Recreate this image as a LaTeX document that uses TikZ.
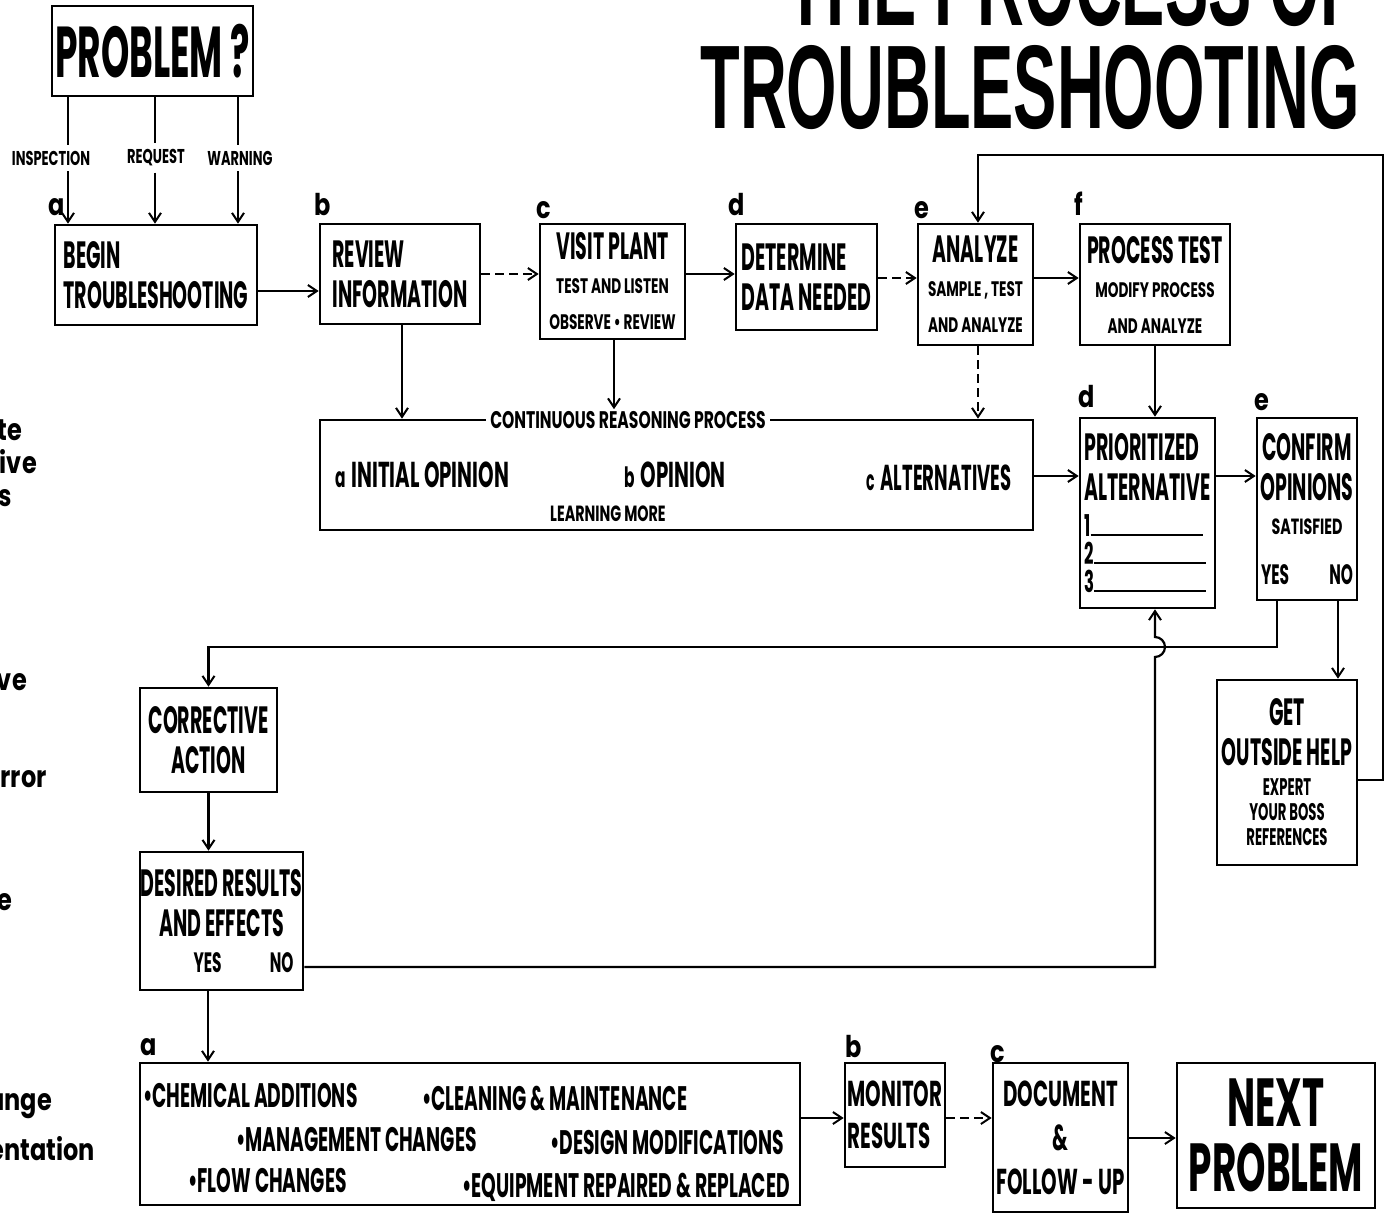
\documentclass[tikz,border=0pt]{standalone}
\usepackage{fontspec}
\usetikzlibrary{arrows.meta,calc}
\newfontfamily\cfa[FakeStretch=0.5]{Poppins}
\newfontfamily\cfb[FakeStretch=0.55]{Poppins}
\newfontfamily\cfc[FakeStretch=0.65]{Poppins}
\newfontfamily\lf[FakeStretch=0.8]{Poppins}
\newfontfamily\tf[FakeStretch=0.545]{Liberation Sans}
\newcommand\fz[2]{\fontsize{#1}{#2}\selectfont}
\begin{document}
\begin{tikzpicture}[x=1pt,y=-1pt,
  box/.style={draw,line width=2.6pt,inner sep=0pt,align=center,font=\cfa\bfseries\fz{38}{40}},
  conn/.style={line width=2.2pt},
  arr/.style={conn,-{Straight Barb[length=9pt,width=12pt,line width=2pt]}},
  brk/.style={dash pattern=on 9pt off 5pt},
  txt/.style={inner sep=0pt,anchor=base west,font=\cfb\bfseries\fz{36}{38}},
  lbl/.style={inner xsep=0pt,inner ysep=6pt,font=\cfc\bfseries\fz{20}{22}},
  tag/.style={inner sep=0pt,anchor=base west,font=\lf\bfseries\fz{30}{30}},
  frag/.style={inner sep=0pt,anchor=base east,font=\lf\bfseries\fz{30}{30}},
  item/.style={inner sep=0pt,anchor=base west,font=\cfb\bfseries\fz{34}{34}},
  ttl/.style={inner sep=0pt,anchor=base east,text depth=0pt,font=\tf\bfseries\fz{119}{119}}
]
\useasboundingbox (0,0) rectangle (1389,1226);
\fill[white] (0,0) rectangle (1389,1226);

% title and cut-off words at the left edge
\begin{scope}
\clip (0,0) rectangle (1389,1226);
\node[ttl] (title1) at (1360,25) {THE PROCESS OF};
\node[frag] (f1) at (22,440) {te};
\node[frag] (f2) at (37,473) {ive};
\node[frag] (f3) at (12,506) {s};
\node[frag] (f4) at (27,690) {ve};
\node[frag] (f5) at (47,787) {rror};
\node[frag] (f6) at (12,910) {e};
\node[frag] (f7) at (52,1110) {ange};
\node[frag] (f8) at (95,1160) {entation};
\end{scope}
\node[ttl] (title2) at (1360,128) {TROUBLESHOOTING};

% boxes
\node[box,minimum width=201pt,minimum height=90pt,font=\cfa\bfseries\fz{72}{72}] (prob) at (152.5,51) {PROBLEM ?};
\node[box,minimum width=202pt,minimum height=100pt,align=left] (begin) at (156,275) {BEGIN\\TROUBLESHOOTING};
\node[box,minimum width=160pt,minimum height=100pt,align=left] (review) at (400,274) {REVIEW\\INFORMATION};
\node[box,minimum width=145pt,minimum height=115pt] (visit) at (612.5,281.5) {VISIT PLANT\\[-6pt]{\cfc\fz{21}{26}TEST AND LISTEN}\\[-4pt]{\cfc\fz{21}{26}OBSERVE \textbullet{} REVIEW}};
\node[box,minimum width=141pt,minimum height=106pt,align=left] (determ) at (806.5,277) {DETERMINE\\DATA NEEDED};
\node[box,minimum width=115pt,minimum height=121pt] (analyze) at (975.5,284.5) {ANALYZE\\[-6pt]{\cfc\fz{21}{26}SAMPLE , TEST}\\[-4pt]{\cfc\fz{21}{26}AND ANALYZE}};
\node[box,minimum width=150pt,minimum height=121pt] (ptest) at (1155,284.5) {PROCESS TEST\\[-6pt]{\cfc\fz{21}{26}MODIFY PROCESS}\\[-4pt]{\cfc\fz{21}{26}AND ANALYZE}};
\node[box,minimum width=713pt,minimum height=110pt] (reason) at (676.5,475) {};
\node[box,minimum width=135pt,minimum height=190pt,align=left] (prior) at (1147.5,513) {PRIORITIZED\\ALTERNATIVE\\[-4pt]{\cfb\fz{30}{26}1}\rule{112pt}{2.2pt}\\[-12pt]{\cfb\fz{30}{26}2}\rule{112pt}{2.2pt}\\[-12pt]{\cfb\fz{30}{26}3}\rule{112pt}{2.2pt}};
\node[box,minimum width=100pt,minimum height=182pt] (confirm) at (1307,509) {CONFIRM\\OPINIONS\\[-6pt]{\cfc\fz{22}{24}SATISFIED}\\[10pt]{\cfb\fz{28}{28}\makebox[92pt]{YES\hfill NO}}};
\node[box,minimum width=140pt,minimum height=185pt] (help) at (1287,772.5) {GET\\OUTSIDE HELP\\[-10pt]{\cfb\fz{24}{24}EXPERT}\\[-15pt]{\cfb\fz{24}{24}YOUR BOSS}\\[-15pt]{\cfb\fz{24}{24}REFERENCES}};
\node[box,minimum width=137pt,minimum height=104pt] (correct) at (208.5,740) {CORRECTIVE\\ACTION};
\node[box,minimum width=163pt,minimum height=138pt] (desired) at (221.5,921) {DESIRED RESULTS\\AND EFFECTS\\[-4pt]{\cfb\fz{28}{28}\makebox[160pt]{\hspace{52pt}YES\hfill NO\hspace{8pt}}}};
\node[box,minimum width=660pt,minimum height=142pt] (actions) at (470,1134) {};
\node[box,minimum width=100pt,minimum height=104pt,align=left,font=\cfb\bfseries\fz{36}{42}] (monitor) at (895,1115) {MONITOR\\RESULTS};
\node[box,minimum width=135pt,minimum height=149pt,font=\cfb\bfseries\fz{36}{44}] (doc) at (1060.5,1137.5) {DOCUMENT\\\&\\FOLLOW - UP};
\node[box,minimum width=198pt,minimum height=145pt,font=\cfb\bfseries\fz{68}{65}] (next) at (1276,1135.5) {NEXT\\PROBLEM};

% texts inside the reasoning box and the action box
\node[fill=white,inner xsep=4pt,inner ysep=2pt,font=\cfc\bfseries\fz{24}{24}] (cont) at (628,420) {CONTINUOUS REASONING PROCESS};
\node[txt] (ia) at (335,487) {{\fz{28}{28}a}\,INITIAL OPINION};
\node[txt] (ib) at (624,487) {{\fz{28}{28}b}\,OPINION};
\node[txt,font=\cfc\bfseries\fz{22}{22}] (lm) at (550,521) {LEARNING MORE};
\node[txt,font=\cfa\bfseries\fz{36}{38}] (ic) at (866,490) {{\fz{28}{28}c}\,ALTERNATIVES};
\node[item] (i1) at (143,1107) {\textbullet CHEMICAL ADDITIONS};
\node[item] (i2) at (422,1110) {\textbullet CLEANING \& MAINTENANCE};
\node[item] (i3) at (236,1151) {\textbullet MANAGEMENT CHANGES};
\node[item] (i4) at (550,1154) {\textbullet DESIGN MODIFICATIONS};
\node[item] (i5) at (188,1192) {\textbullet FLOW CHANGES};
\node[item] (i6) at (462,1197) {\textbullet EQUIPMENT REPAIRED \& REPLACED};

% step letters
\node[tag] (ta) at (48,215) {a};
\node[tag] (tb) at (314,215) {b};
\node[tag] (tc) at (536,218) {c};
\node[tag] (td) at (728,215) {d};
\node[tag] (te) at (914,218) {e};
\node[tag] (tf) at (1074,215) {f};
\node[tag] (td2) at (1078,407) {d};
\node[tag] (te2) at (1254,410) {e};
\node[tag] (ta2) at (140,1055) {a};
\node[tag] (tb2) at (845,1057) {b};
\node[tag] (tc2) at (990,1062) {c};

% source labels
\coordinate (xa) at (68,0); \coordinate (xb) at (155,0); \coordinate (xc) at (238,0);
\node[lbl] (insp) at (51,158) {INSPECTION};
\node[lbl] (req) at (156,158) {REQUEST};
\node[lbl] (warn) at (240,158) {WARNING};
\draw[conn] (prob.south -| xa) -- (insp.north -| xa);
\draw[conn] (prob.south -| xb) -- (req.north -| xb);
\draw[conn] (prob.south -| xc) -- (warn.north -| xc);
\draw[arr] (insp.south -| xa) -- (begin.north -| xa);
\draw[arr] (req.south -| xb) -- (begin.north -| xb);
\draw[arr] (warn.south -| xc) -- (begin.north -| xc);

% helper coordinates
\coordinate (r1) at (0,291);
\coordinate (r2) at (0,274);
\coordinate (r3) at (0,278);
\coordinate (r4) at (0,476);
\coordinate (r5) at (0,647);
\coordinate (r6) at (0,780);
\coordinate (r7) at (0,155);
\coordinate (r8) at (0,967);
\coordinate (r9) at (0,1118);
\coordinate (r10) at (0,1138);
\coordinate (xr) at (402,0);
\coordinate (xv) at (614,0);
\coordinate (xan) at (978,0);
\coordinate (xp) at (1155,0);
\coordinate (xy) at (1277,0);
\coordinate (xn) at (1338,0);
\coordinate (xf) at (1383,0);
\coordinate (xd) at (208,0);

% connectors
\draw[arr] (begin.east |- r1) -- (review.west |- r1);
\draw[arr,brk] (review.east |- r2) -- (visit.west |- r2);
\draw[arr] (visit.east |- r2) -- (determ.west |- r2);
\draw[arr,brk] (determ.east |- r3) -- (analyze.west |- r3);
\draw[arr] (analyze.east |- r3) -- (ptest.west |- r3);
\draw[arr] (review.south -| xr) -- (reason.north -| xr);
\draw[arr] (visit.south -| xv) -- (cont.north -| xv);
\draw[arr,brk] (analyze.south -| xan) -- (reason.north -| xan);
\draw[arr] (reason.east |- r4) -- (prior.west |- r4);
\draw[arr] (ptest.south -| xp) -- (prior.north -| xp);
\draw[arr] (prior.east |- r4) -- (confirm.west |- r4);
\draw[arr] (confirm.south -| xy) -- (xy |- r5) -- (correct.north |- r5) -- (correct.north);
\draw[arr] (confirm.south -| xn) -- (help.north -| xn);
\draw[arr] (help.east |- r6) -- (xf |- r6) -- (xf |- r7) -- (xan |- r7) -- (analyze.north -| xan);
\draw[arr] (correct.south) -- (correct.south |- desired.north);
\draw[arr] (desired.east |- r8) -- (xp |- r8) -- ($(xp |- r5)+(0,10)$) arc[start angle=-90,end angle=90,radius=10pt] -- (prior.south -| xp);
\draw[arr] (desired.south -| xd) -- (actions.north -| xd);
\draw[arr] (actions.east |- r9) -- (monitor.west |- r9);
\draw[arr,brk] (monitor.east |- r9) -- (doc.west |- r9);
\draw[arr] (doc.east |- r10) -- (next.west |- r10);
\end{tikzpicture}
\end{document}
